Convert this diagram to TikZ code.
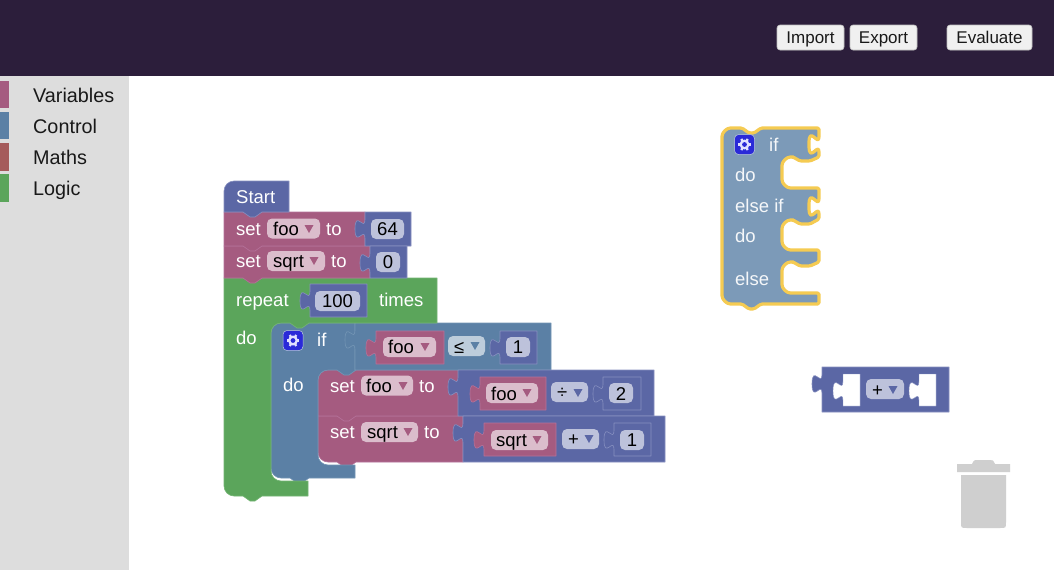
\documentclass[tikz,border=0pt]{standalone}
\usepackage{fontspec}
\setmainfont{Liberation Sans}
\usetikzlibrary{calc}
\definecolor{hdr}{HTML}{2C1E3B}
\definecolor{side}{HTML}{DDDDDD}
\definecolor{pink}{HTML}{A55B80}
\definecolor{pinkL}{HTML}{B5729A}
\definecolor{pinkF}{HTML}{DBBDCC}
\definecolor{blu}{HTML}{5B80A5}
\definecolor{bluL}{HTML}{7496B5}
\definecolor{bluF}{HTML}{BDCDDB}
\definecolor{pur}{HTML}{5B67A5}
\definecolor{purL}{HTML}{8790C0}
\definecolor{purF}{HTML}{BDC2DB}
\definecolor{grn}{HTML}{5BA55B}
\definecolor{grnL}{HTML}{74B574}
\definecolor{mth}{HTML}{A55B5B}
\definecolor{flt}{HTML}{7C9AB8}
\definecolor{glow}{HTML}{F5CB52}
\definecolor{bin}{HTML}{CFCFCF}
\definecolor{gearb}{HTML}{2A2AD8}
\tikzset{
  pinkb/.style={fill=pink,draw=pinkL,line width=.6pt,line join=round},
  blub/.style={fill=blu,draw=bluL,line width=.6pt,line join=round},
  purb/.style={fill=pur,draw=purL,line width=.6pt,line join=round},
  grnb/.style={fill=grn,draw=grnL,line width=.6pt,line join=round},
  holeb/.style={fill=white,draw=purL,line width=.4pt,line join=round},
  lbl/.style={font=\fontsize{18.5}{22}\selectfont,text=white,inner sep=0pt,anchor=base west},
  ftxt/.style={font=\fontsize{18.5}{22}\selectfont,text=black,inner sep=0pt,anchor=base west},
  ntxt/.style={font=\fontsize{18.5}{22}\selectfont,text=black,inner sep=0pt,anchor=base},
  cat/.style={font=\fontsize{19.8}{22}\selectfont,text=black!90,inner sep=0pt,anchor=base west},
  btn/.style={draw=black!25,fill=black!6,rounded corners=3pt,inner sep=0pt,line width=.6pt,
    minimum height=25pt,text height=14pt,text depth=3pt,font=\fontsize{17}{20}\selectfont,text=black!90},
}
% rounded corner: from (#1,#2), corner at (#3,#4), to (#5,#6)
\newcommand\cn[6]{-- (#1,#2) .. controls ($(#1,#2)!.55!(#3,#4)$) and ($(#5,#6)!.55!(#3,#4)$) .. (#5,#6)}
% puzzle-tab curves on a vertical edge at x=#1, top of the tab y=#2
\newcommand\puzD[2]{-- (#1,#2) .. controls (#1,#2+12.5) and (#1-10,#2-10) .. (#1-10,#2+9.4) .. controls (#1-10,#2+28.8) and (#1,#2+6.3) .. (#1,#2+18.8)}
\newcommand\puzU[2]{-- (#1,#2+18.8) .. controls (#1,#2+6.3) and (#1-10,#2+28.8) .. (#1-10,#2+9.4) .. controls (#1-10,#2-10) and (#1,#2+12.5) .. (#1,#2)}
% notch going left (from x=#1+19 to x=#1) at y=#2
\newcommand\ntchL[2]{-- (#1+19,#2) -- (#1+12,#2+5) -- (#1+7,#2+5) -- (#1,#2)}
% value block with tab
\newcommand\blkVal[5]{\path[#1] (#2,#3) -- (#4,#3) -- (#4,#5) -- (#2,#5) \puzU{#2}{#3+7.5} -- cycle;}
% field background
\newcommand\blkField[4]{\path[fill=#1,rounded corners=5pt] (#2,#3) rectangle (#2+#4,#3+20);}
% dropdown arrow
\newcommand\blkTri[3]{\path[fill=#1] (#2-4.5,#3-4) -- (#2+4.5,#3-4) -- (#2,#3+4) -- cycle;}
% gear icon
\newcommand\blkGear[2]{%
  \path[fill=gearb,draw=bluF,line width=.5pt,rounded corners=4pt] (#1,#2) rectangle (#1+20,#2+20);
  \foreach \a in {0,60,...,300}{\draw[white!88!blue,line width=2.3pt] ($(#1+10,#2+10)+(\a:3.5)$) -- ($(#1+10,#2+10)+(\a:6.4)$);}
  \path[fill=white!88!blue] (#1+10,#2+10) circle[radius=5pt];
  \path[fill=gearb] (#1+10,#2+10) circle[radius=2.4pt];
}
\begin{document}
\begin{tikzpicture}[x=1pt,y=-1pt]
\useasboundingbox (0,0) rectangle (1054,570);
\path[fill=white] (0,0) rectangle (1054,570);
% chrome
\path[fill=hdr] (0,0) rectangle (1054,76);
\path[fill=side] (0,76) rectangle (129,570);
\path[fill=pink] (0,81) rectangle (9,108);
\path[fill=blu] (0,112) rectangle (9,139);
\path[fill=mth] (0,143) rectangle (9,171);
\path[fill=grn] (0,174) rectangle (9,202);
\node[cat] (cVar) at (33,102) {Variables};
\node[cat] (cCtl) at (33,133) {Control};
\node[cat] (cMth) at (33,164) {Maths};
\node[cat] (cLog) at (33,195) {Logic};
\node[btn,minimum width=67pt] (bImp) at (810.5,37.5) {Import};
\node[btn,minimum width=67pt] (bExp) at (883.5,37.5) {Export};
\node[btn,minimum width=85pt] (bEva) at (989.5,37.5) {Evaluate};

% ---- inner pink stack
\path[pinkb] (318,416) -- (463,416) -- (463,462) \ntchL{337}{462} \cn{328}{462}{318}{462}{318}{452} -- cycle;
\path[pinkb] (328,370) -- (459,370) -- (459,416) \ntchL{337}{416} -- (318,416) \cn{318}{380}{318}{370}{328}{370} -- cycle;

% ---- if block
\path[blub] (281,323) -- (355,323) -- (355,370) \ntchL{337}{370} \cn{328}{370}{318}{370}{318}{380} \cn{318}{455}{318}{465}{328}{465} -- (355,465) -- (355,478) \ntchL{290}{478} \cn{281}{478}{271}{478}{271}{468} \cn{271}{333}{271}{323}{281}{323} -- cycle;
% compare block
\blkVal{blub}{355}{323}{551}{370}
\blkGear{283}{330.5}

% ---- repeat block
\path[grnb] (224,278) -- (437,278) -- (437,323) \ntchL{290}{323} \cn{281}{323}{271}{323}{271}{333} \cn{271}{471}{271}{481}{281}{481} -- (308,481) -- (308,496) \ntchL{243}{496} \cn{234}{496}{224}{496}{224}{486} -- cycle;

% ---- top stack
\path[pinkb] (224,246) -- (370,246) -- (370,278) \ntchL{243}{278} -- (224,278) -- cycle;
\path[pinkb] (224,212) -- (365,212) -- (365,246) \ntchL{243}{246} -- (224,246) -- cycle;
\path[purb] (234,181) -- (289,181) -- (289,212) \ntchL{243}{212} -- (224,212) \cn{224}{191}{224}{181}{234}{181} -- cycle;

% value blocks, top stack
\blkVal{purb}{365}{212}{411}{246}
\blkVal{purb}{370}{246}{407}{278}
\blkVal{purb}{310}{284}{367}{317}
\blkField{purF}{371}{219}{33}
\blkField{purF}{376}{252}{24}
\blkField{purF}{315}{291}{45}
\node[ntxt] (n64) at (387.5,235) {64};
\node[ntxt] (n0) at (388,268) {0};
\node[ntxt] (n100) at (337.5,307) {100};

% inside compare
\blkVal{pinkb}{376}{331}{444}{364}
\blkField{pinkF}{383}{337}{53}
\node[ftxt] (tFooA) at (388,353) {foo};
\blkTri{pink}{425}{347}
\blkField{bluF}{448}{336}{37}
\node[ftxt] (tLe) at (454,353) {≤};
\blkTri{blu}{475}{346}
\blkVal{purb}{500}{331}{537}{364}
\blkField{purF}{506}{337}{24}
\node[ntxt] (n1a) at (518,353) {1};

% set foo value
\blkVal{purb}{458}{370}{654}{416}
\blkVal{pinkb}{480}{377}{546}{410}
\blkField{pinkF}{486}{383}{52}
\node[ftxt] (tFooB) at (491,400) {foo};
\blkTri{pink}{527}{393}
\blkField{purF}{551}{382}{37}
\node[ftxt] (tDiv) at (557,398) {÷};
\blkTri{pur}{578}{393}
\blkVal{purb}{603}{377}{641}{410}
\blkField{purF}{609}{383}{24}
\node[ntxt] (n2) at (621,400) {2};

% set sqrt value
\blkVal{purb}{463}{416}{665}{462}
\blkVal{pinkb}{484}{423}{556}{456}
\blkField{pinkF}{491}{430}{57}
\node[ftxt] (tSqrtB) at (496,446) {sqrt};
\blkTri{pink}{537}{440}
\blkField{purF}{562}{429}{37}
\node[ftxt] (tPlus) at (568,445) {+};
\blkTri{pur}{589}{439}
\blkVal{purb}{614}{423}{651}{456}
\blkField{purF}{620}{430}{24}
\node[ntxt] (n1b) at (632,446) {1};

% labels
\node[lbl] (tStart) at (236,203) {Start};
\node[lbl] (tSet1) at (236,235) {set};
\blkField{pinkF}{267}{218.5}{53}
\node[ftxt] (tFoo1) at (273,235) {foo};
\blkTri{pink}{309}{229}
\node[lbl] (tTo1) at (326,235) {to};
\node[lbl] (tSet2) at (236,267) {set};
\blkField{pinkF}{267}{251}{58}
\node[ftxt] (tSqrt1) at (273,267) {sqrt};
\blkTri{pink}{314}{261}
\node[lbl] (tTo2) at (331,267) {to};
\node[lbl] (tRepeat) at (236,306) {repeat};
\node[lbl] (tTimes) at (379,306) {times};
\node[lbl] (tDo1) at (236,344) {do};
\node[lbl] (tIf1) at (317,346) {if};
\node[lbl] (tDo2) at (283,391) {do};
\node[lbl] (tSet3) at (330,392) {set};
\blkField{pinkF}{361}{375.5}{52}
\node[ftxt] (tFoo3) at (366,392) {foo};
\blkTri{pink}{403}{386}
\node[lbl] (tTo3) at (419,392) {to};
\node[lbl] (tSet4) at (330,438) {set};
\blkField{pinkF}{361}{422}{57}
\node[ftxt] (tSqrt4) at (367,438) {sqrt};
\blkTri{pink}{408}{432}
\node[lbl] (tTo4) at (424,438) {to};

% ---- floating if block
\path[fill=flt,draw=glow,line width=3.2pt,line join=round,rounded corners=1.5pt]
  (722,138) \cn{722}{138}{722}{128}{732}{128} -- (742,128) -- (749,133) -- (754,133) -- (761,128) -- (819,128)
  \puzD{819}{135} -- (819,157) -- (810,161) -- (800,161) -- (793,157) \cn{792}{157}{782}{157}{782}{167}
  \cn{782}{178}{782}{188}{792}{188} -- (819,188)
  \puzD{819}{197} -- (819,219) -- (810,224) -- (800,224) -- (793,220) \cn{792}{220}{782}{220}{782}{230}
  \cn{782}{240}{782}{250}{792}{250} -- (819,250)
  -- (819,262) -- (810,266) -- (800,266) -- (793,262) \cn{792}{262}{782}{262}{782}{272}
  \cn{782}{283}{782}{293}{792}{293} -- (819,293)
  -- (819,304) -- (761,304) -- (754,309) -- (749,309) -- (742,304) \cn{732}{304}{722}{304}{722}{294} -- cycle;
\blkGear{734.5}{134.5}
\node[lbl,text=white!92!flt] (fIf) at (769,151) {if};
\node[lbl,text=white!92!flt] (fDo1) at (735,181) {do};
\node[lbl,text=white!92!flt] (fElif) at (735,212) {else if};
\node[lbl,text=white!92!flt] (fDo2) at (735,242) {do};
\node[lbl,text=white!92!flt] (fElse) at (735,285) {else};

% ---- floating arithmetic block
\blkVal{purb}{822}{367}{949}{412}
\blkVal{holeb}{843}{374}{860}{406}
\blkVal{holeb}{919}{374}{936}{406}
\blkField{purF}{866}{379}{38}
\node[ftxt] (fPlus) at (872,396) {+};
\blkTri{pur}{893}{390}

% ---- trash can
\path[fill=bin] (957,464) -- (972,464) .. controls (974,460) .. (978,460) -- (990,460) .. controls (993,460) .. (995,464) -- (1010,464) -- (1010,472) -- (957,472) -- cycle;
\path[fill=bin] (961,475) -- (1006,475) -- (1006,522) .. controls (1006,528) .. (1000,528) -- (967,528) .. controls (961,528) .. (961,522) -- cycle;
\end{tikzpicture}
\end{document}
